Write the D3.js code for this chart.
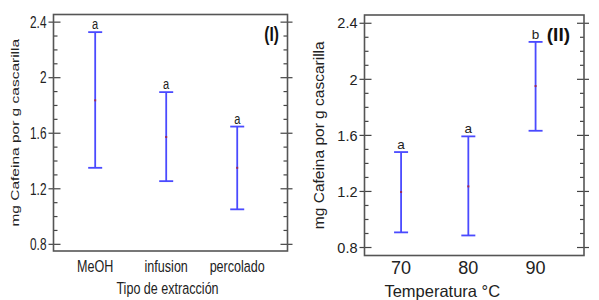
<!DOCTYPE html>
<html>
<head>
<meta charset="utf-8">
<script src="https://cdn.jsdelivr.net/npm/d3@7"></script>
<style>
  body { margin: 0; background: #fff; }
  svg { display: block; font-family: "Liberation Sans", Arial, sans-serif; }
</style>
</head>
<body>
<script>
// panel (I): tipo de extraccion
const catsI = ["MeOH", "infusion", "percolado"];
const meanI = [1.837, 1.573, 1.351];
const lowI = [1.351, 1.255, 1.052];
const highI = [2.328, 1.896, 1.648];
const letI = ["a", "a", "a"];

// panel (II): temperatura
const tempsII = [70, 80, 90];
const meanII = [1.196, 1.236, 1.952];
const lowII = [0.908, 0.886, 1.633];
const highII = [1.481, 1.593, 2.267];
const letII = ["a", "a", "b"];

const yTicks = [0.8, 1.2, 1.6, 2.0, 2.4];
const yMinor = d3.range(8, 25).map(function(d){ return d / 10; });

const W = 599, H = 300;
const svg = d3.select("body").append("svg").attr("width", W).attr("height", H);

function drawPanel(p) {
  const g = svg.append("g");
  const x = d3.scaleLinear().domain(p.xDomain).range([p.left, p.right]);
  const y = d3.scaleLinear().domain(p.yDomain).range([p.bottom, p.top]);
  const sx = p.squeeze;

  // texts squeezed horizontally around their anchor
  function txt(px, py, s, size, anchor) {
    return g.append("text")
      .attr("transform", "translate(" + px + "," + py + ") scale(" + sx + ",1)")
      .attr("text-anchor", anchor)
      .attr("font-size", size)
      .attr("fill", "#222")
      .text(s);
  }

  // ticks, inward on both sides; majors also poke outside
  yMinor.forEach(function(v){
    if (y(v) < p.top || y(v) > p.bottom) return;
    const major = yTicks.some(function(t){ return Math.abs(t - v) < 1e-6; });
    const inL = major ? 7 : 4, outL = major ? 5 : 0;
    g.append("line").attr("x1", p.left - outL).attr("x2", p.left + inL)
      .attr("y1", y(v)).attr("y2", y(v)).attr("stroke", "#444").attr("stroke-width", 1.2);
    g.append("line").attr("x1", p.right - inL).attr("x2", p.right + outL)
      .attr("y1", y(v)).attr("y2", y(v)).attr("stroke", "#444").attr("stroke-width", 1.2);
  });

  // frame
  g.append("rect").attr("x", p.left).attr("y", p.top)
    .attr("width", p.right - p.left).attr("height", p.bottom - p.top)
    .attr("fill", "none").attr("stroke", "#555").attr("stroke-width", 1.6);

  // y tick labels
  yTicks.forEach(function(v){
    txt(p.left - 7, y(v) + p.yFont * 0.36, String(+v.toFixed(1)), p.yFont, "end");
  });

  // error bars
  const cap = p.cap;
  p.xs.forEach(function(xv, i){
    const cx = x(xv);
    g.append("line").attr("x1", cx).attr("x2", cx)
      .attr("y1", y(p.low[i])).attr("y2", y(p.high[i]))
      .attr("stroke", "#4a4aff").attr("stroke-width", 1.8);
    [p.low[i], p.high[i]].forEach(function(v){
      g.append("line").attr("x1", cx - cap).attr("x2", cx + cap)
        .attr("y1", y(v)).attr("y2", y(v))
        .attr("stroke", "#4a4aff").attr("stroke-width", 1.8);
    });
    g.append("rect").attr("x", cx - 1).attr("y", y(p.mean[i]) - 1)
      .attr("width", 2).attr("height", 2).attr("fill", "#9b2a5a");
    txt(cx, y(p.high[i]) - 3, p.letters[i], p.letFont, "middle");
    // x tick label
    txt(cx, p.xLabY, p.labels[i], p.xFont, "middle");
  });

  // axis titles
  txt((p.left + p.right) / 2 + p.xTitleDx, p.xTitleY, p.xTitle, p.xTitleFont, "middle");
  g.append("text")
    .attr("transform", "translate(" + p.yTitleX + "," + ((p.top + p.bottom) / 2) + ") rotate(-90) scale(1," + sx + ")")
    .attr("text-anchor", "middle").attr("font-size", p.yTitleFont).attr("fill", "#222")
    .text(p.yTitle);

  // panel tag
  txt(p.tagX, p.tagY, p.tag, p.tagFont, "end").attr("font-weight", "bold").attr("fill", "#111");
}

drawPanel({
  left: 53.5, right: 287.5, top: 14.5, bottom: 251,
  xDomain: [-0.587, 2.708], yDomain: [0.752, 2.455],
  xs: [0, 1, 2], labels: catsI, mean: meanI, low: lowI, high: highI, letters: letI,
  squeeze: 0.74, cap: 7, yFont: 16, letFont: 15, xFont: 17, xLabY: 272,
  xTitle: "Tipo de extracción", xTitleY: 294, xTitleDx: -3, xTitleFont: 17,
  yTitle: "mg Cafeina por g cascarilla", yTitleX: 18.5, yTitleFont: 15.5,
  tag: "(I)", tagX: 279, tagY: 41, tagFont: 21
});

drawPanel({
  left: 364.5, right: 584, top: 15, bottom: 255.5,
  xDomain: [64.56, 97.2], yDomain: [0.743, 2.459],
  xs: tempsII, labels: tempsII.map(String), mean: meanII, low: lowII, high: highII, letters: letII,
  squeeze: 1, cap: 7, yFont: 14.5, letFont: 13.5, xFont: 18, xLabY: 274,
  xTitle: "Temperatura °C", xTitleY: 297, xTitleDx: -32, xTitleFont: 16.5,
  yTitle: "mg Cafeina por g cascarilla", yTitleX: 324, yTitleFont: 15.5,
  tag: "(II)", tagX: 570, tagY: 41, tagFont: 19
});
</script>
</body>
</html>
